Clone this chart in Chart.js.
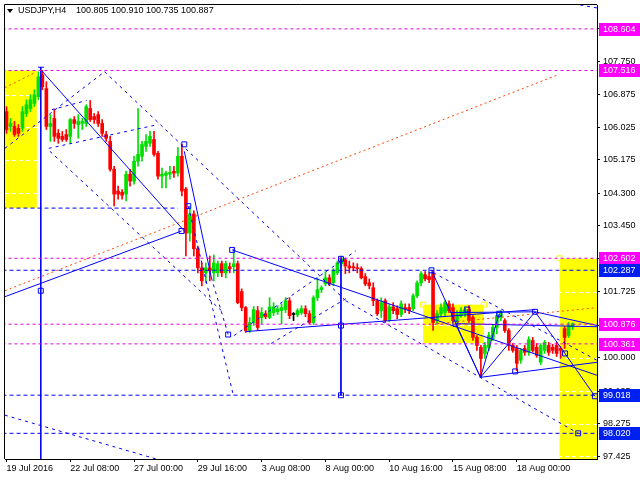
<!DOCTYPE html>
<html>
<head>
<meta charset="utf-8">
<script src="https://cdn.jsdelivr.net/npm/chart.js@4.4.0/dist/chart.umd.min.js"></script>
<style>
html, body { margin: 0; padding: 0; background: #fff; }
</style>
</head>
<body>
<canvas id="chart" width="640" height="480"></canvas>
<script>
// USDJPY H4 candles (bar index 0..142)
var opens = [106.44, 106.05, 106.05, 106.00, 106.00, 106.39, 106.52, 106.65, 106.83, 107.40,
  107.04, 106.05, 106.26, 105.87, 105.79, 105.84, 105.79, 106.23, 106.10, 106.13,
  106.13, 106.52, 106.31, 106.36, 106.13, 105.84, 105.66, 104.93, 104.36, 104.33,
  104.28, 104.80, 104.62, 105.14, 105.27, 105.53, 105.61, 105.71, 105.35, 104.75,
  104.77, 104.80, 104.88, 104.83, 105.27, 104.41, 103.26, 103.76, 102.85, 102.35,
  102.22, 102.35, 102.22, 102.22, 102.46, 102.22, 102.38, 102.38, 102.46, 101.73,
  101.31, 100.71, 100.92, 101.23, 101.05, 101.15, 101.05, 101.18, 101.20, 101.23,
  101.26, 101.49, 101.13, 101.12, 101.18, 101.28, 101.15, 100.92, 101.57, 101.78,
  101.93, 102.09, 101.96, 102.22, 102.46, 102.56, 102.40, 102.38, 102.35, 102.33,
  102.12, 101.96, 101.83, 101.49, 101.23, 101.49, 101.00, 101.33, 101.28, 101.13,
  101.31, 101.31, 101.28, 101.62, 101.96, 102.17, 102.12, 102.22, 100.97, 101.15,
  101.18, 101.41, 101.31, 100.97, 101.10, 101.15, 101.26, 101.05, 100.53, 100.27,
  100.11, 100.27, 100.50, 100.79, 101.05, 100.97, 100.71, 100.32, 100.24, 99.93,
  100.24, 100.14, 100.45, 100.27, 99.88, 100.19, 100.32, 100.27, 100.32, 100.24,
  100.76, 100.58, 100.805];
var highs = [106.57, 106.26, 106.18, 106.10, 106.57, 106.75, 106.88, 107.01, 107.48, 107.516,
  107.22, 106.36, 106.49, 105.97, 105.92, 105.97, 106.26, 106.31, 106.36, 106.26,
  106.62, 106.73, 106.39, 106.44, 106.23, 105.92, 105.79, 105.01, 104.49, 104.40,
  104.88, 104.93, 105.27, 106.52, 105.66, 105.84, 105.92, 105.92, 105.40, 104.96,
  104.88, 105.01, 105.01, 105.50, 105.58, 104.46, 103.97, 103.84, 102.92, 102.48,
  102.48, 102.66, 102.69, 102.53, 102.53, 102.53, 102.48, 102.85, 102.53, 101.80,
  101.34, 101.05, 101.34, 101.34, 101.31, 101.23, 101.57, 101.44, 101.36, 101.41,
  101.57, 101.57, 101.18, 101.28, 101.36, 101.36, 101.23, 101.62, 102.09, 101.88,
  102.25, 102.17, 102.33, 102.53, 102.66, 102.59, 102.53, 102.48, 102.46, 102.38,
  102.20, 102.06, 101.96, 101.54, 101.57, 101.54, 101.39, 101.44, 101.36, 101.49,
  101.41, 101.41, 101.67, 102.01, 102.25, 102.25, 102.22, 102.287, 101.23, 101.41,
  101.49, 101.49, 101.41, 101.23, 101.31, 101.34, 101.36, 101.10, 100.58, 100.32,
  100.40, 100.66, 100.87, 101.18, 101.23, 101.02, 100.76, 100.37, 100.32, 100.24,
  100.32, 100.55, 100.53, 100.37, 100.37, 100.45, 100.40, 100.35, 100.40, 100.29,
  100.81, 100.92, 100.910];
var lows = [105.87, 105.92, 105.79, 105.79, 105.92, 106.31, 106.44, 106.57, 106.75, 107.01,
  105.97, 105.66, 105.66, 105.61, 105.66, 105.66, 105.61, 106.00, 105.74, 105.97,
  106.05, 106.18, 106.13, 106.05, 105.79, 105.66, 104.88, 103.97, 104.15, 104.15,
  104.10, 104.49, 104.54, 105.01, 105.14, 105.40, 105.53, 105.27, 104.67, 104.44,
  104.44, 104.67, 104.72, 104.75, 104.23, 102.66, 103.05, 102.66, 102.22, 101.88,
  101.96, 102.01, 102.01, 102.12, 102.12, 102.09, 102.22, 102.22, 101.41, 101.23,
  100.66, 100.66, 100.84, 100.71, 100.89, 101.02, 101.02, 101.10, 101.13, 100.89,
  101.18, 101.02, 100.97, 101.07, 101.13, 101.07, 100.89, 100.87, 101.49, 101.70,
  101.88, 101.88, 101.88, 102.17, 102.40, 102.20, 102.22, 102.27, 102.22, 102.06,
  101.88, 101.80, 101.36, 101.10, 101.05, 100.92, 100.94, 101.15, 101.02, 101.07,
  101.18, 101.15, 101.23, 101.57, 101.88, 102.01, 101.96, 100.71, 100.89, 101.07,
  101.10, 101.18, 100.92, 100.92, 101.05, 101.07, 100.92, 100.45, 100.19, 99.49,
  99.98, 100.19, 100.45, 100.63, 100.97, 100.66, 100.19, 100.14, 99.66, 99.85,
  100.06, 100.06, 100.14, 100.01, 99.82, 100.11, 100.06, 100.11, 100.03, 99.98,
  100.24, 100.53, 100.735];
var closes = [105.97, 106.13, 105.84, 105.87, 106.44, 106.62, 106.75, 106.88, 107.35, 107.09,
  106.05, 106.13, 105.79, 105.74, 105.71, 105.71, 106.23, 106.13, 106.18, 106.18,
  106.57, 106.23, 106.23, 106.13, 105.87, 105.74, 104.93, 104.28, 104.28, 104.25,
  104.80, 104.62, 105.14, 105.32, 105.58, 105.66, 105.79, 105.32, 104.75, 104.80,
  104.83, 104.85, 104.83, 105.27, 104.36, 103.26, 103.76, 102.85, 102.35, 102.01,
  102.35, 102.27, 102.48, 102.46, 102.22, 102.46, 102.33, 102.46, 101.44, 101.31,
  100.71, 100.92, 101.26, 100.79, 101.18, 101.07, 101.33, 101.33, 101.28, 101.31,
  101.49, 101.10, 101.13, 101.23, 101.28, 101.15, 100.92, 101.57, 101.78, 101.83,
  102.09, 101.93, 102.27, 102.48, 102.59, 102.40, 102.35, 102.35, 102.33, 102.09,
  101.93, 101.88, 101.49, 101.15, 101.44, 100.97, 101.33, 101.23, 101.13, 101.41,
  101.28, 101.23, 101.62, 101.96, 102.20, 102.06, 102.04, 100.92, 101.15, 101.31,
  101.44, 101.23, 100.97, 101.15, 101.23, 101.26, 100.97, 100.53, 100.32, 99.98,
  100.32, 100.58, 100.79, 101.10, 101.15, 100.71, 100.32, 100.19, 99.85, 100.19,
  100.14, 100.47, 100.19, 100.06, 100.32, 100.40, 100.14, 100.19, 100.11, 100.19,
  100.53, 100.84, 100.887];

// time labels, one every 16 bars
var timeLabels = ['19 Jul 2016', '22 Jul 08:00', '27 Jul 00:00', '29 Jul 16:00', '3 Aug 08:00',
  '8 Aug 00:00', '10 Aug 16:00', '15 Aug 08:00', '18 Aug 00:00'];
var barsPerLabel = 16;

// price scale
var priceTicks = [97.425, 98.275, 99.125, 100.000, 100.850, 101.725, 102.600, 103.450,
  104.300, 105.175, 106.025, 106.875, 107.750, 108.625];
var priceMin = 97.348;
var priceMax = 109.229;

// horizontal levels
var magentaLevels = [108.604, 107.516, 102.602, 100.876, 100.361];
var blueLevels = [102.287, 99.018, 98.020];
var shortLevel = [103.914, -1, 43];

// yellow zones: [fromBar, toBar, price1, price2]
var zones = [[-1, 7.6, 107.516, 103.914], [104.5, 119.75, 101.387, 100.38], [138.75, 150, 102.602, 90]];

// trend lines: [bar, price] pairs
var solidLines = [
  [[8.6, 107.536], [44.6, 103.315]],
  [[-0.4, 101.595], [43.9, 103.315]],
  [[8.6, 107.6], [8.6, 97.0]],
  [[7.9, 107.6], [9.4, 107.6]],
  [[44.6, 105.40], [51.4, 102.09]],
  [[56.6, 102.82], [148.1, 99.54]],
  [[60.1, 100.683], [132.6, 101.257]],
  [[83.9, 102.62], [83.9, 99.016]],
  [[106.6, 102.287], [118.9, 99.485]],
  [[118.9, 99.485], [132.6, 101.2]],
  [[118.9, 99.485], [123.6, 101.15]],
  [[132.6, 101.2], [140.1, 100.11]],
  [[140.1, 100.11], [147.6, 98.99]],
  [[118.9, 99.485], [148.2, 99.88]],
  [[111.4, 101.18], [132.6, 101.2]],
  [[132.6, 101.2], [148.2, 100.84]],
  [[112.6, 100.89], [118.9, 99.485]],
  [[112.6, 100.89], [148.2, 100.81]]
];
var dashedLines = [
  [[51.4, 102.09], [55.6, 100.605]],
  [[45.6, 103.966], [56.9, 99.018]],
  [[-0.4, 105.477], [24.6, 107.484]],
  [[24.6, 107.484], [85.1, 101.491]],
  [[10.9, 105.399], [53.9, 101.23]],
  [[-0.4, 98.495], [37.6, 97.348]],
  [[57.1, 100.579], [87.6, 102.794]],
  [[66.4, 100.37], [85.1, 101.543]],
  [[11.4, 106.49], [20.1, 106.73]],
  [[10.6, 105.477], [38.1, 106.103]],
  [[85.1, 101.49], [143.4, 98.02]],
  [[107.1, 102.221], [148.2, 99.928]],
  [[143.9, 109.23], [148.2, 109.15]]
];
var orangeLines = [
  [[-0.4, 101.751], [138.4, 107.405]],
  [[-0.4, 107.067], [7.1, 107.458]],
  [[108.1, 100.892], [148.2, 101.309]]
];
var anchors = [[8.6, 101.751], [43.9, 103.315], [44.6, 105.582], [45.6, 103.966], [55.6, 100.605],
  [56.6, 102.82], [83.9, 102.586], [83.9, 100.84], [83.9, 99.016], [106.6, 102.287],
  [112.6, 100.89], [115.6, 101.26], [123.6, 101.15], [132.6, 101.2], [127.6, 99.64],
  [140.1, 100.11], [147.6, 98.99], [143.4, 98.02]];
var zoneAnchors = [[104.5, 101.387], [119.75, 101.387], [138.75, 102.602]];

var titleText = 'USDJPY,H4';
var quoteText = '100.805 100.910 100.735 100.887';

var BLUE = '#0000ff';
var MAGENTA = '#e000e0';
var FONT = 'Liberation Sans';

function candleColor(i) {
  if (closes[i] > opens[i]) return '#00e000';
  if (closes[i] < opens[i]) return '#ff0000';
  return '#000000';
}

function lineSet(pairs, color, dash) {
  return {
    type: 'line',
    data: pairs.map(function (p) { return { x: p[0], y: p[1] }; }),
    borderColor: color,
    borderWidth: 1,
    borderDash: dash,
    pointRadius: 0,
    fill: false,
    order: 0
  };
}

var datasets = [];
magentaLevels.forEach(function (v) {
  datasets.push(lineSet([[-1, v], [150, v]], MAGENTA, [3, 3]));
});
blueLevels.forEach(function (v) {
  datasets.push(lineSet([[-1, v], [150, v]], BLUE, [4, 3]));
});
datasets.push(lineSet([[shortLevel[1], shortLevel[0]], [shortLevel[2], shortLevel[0]]], BLUE, [4, 3]));
solidLines.forEach(function (l) { datasets.push(lineSet(l, BLUE, [])); });
dashedLines.forEach(function (l) { datasets.push(lineSet(l, BLUE, [3, 4])); });
orangeLines.forEach(function (l) { datasets.push(lineSet(l, '#ff4500', [2, 3])); });
datasets.push({
  type: 'line', showLine: false, order: 0,
  data: anchors.map(function (p) { return { x: p[0], y: p[1] }; }),
  pointStyle: 'rect', pointRadius: 3.5, pointBorderColor: BLUE, pointBorderWidth: 1,
  pointBackgroundColor: 'rgba(255,255,255,0)'
});
datasets.push({
  type: 'line', showLine: false, order: 0,
  data: zoneAnchors.map(function (p) { return { x: p[0], y: p[1] }; }),
  pointStyle: 'rect', pointRadius: 3.5, pointBorderColor: '#ffff00', pointBorderWidth: 1,
  pointBackgroundColor: 'rgba(255,255,255,0)'
});
// candles: wicks and bodies
datasets.push({
  type: 'bar', order: 1, grouped: false, barThickness: 1, borderWidth: 0,
  data: opens.map(function (o, i) { return { x: i, y: [lows[i], highs[i]] }; }),
  backgroundColor: opens.map(function (o, i) { return candleColor(i); })
});
datasets.push({
  type: 'bar', order: 1, grouped: false, barThickness: 3, borderWidth: 0, minBarLength: 1,
  data: opens.map(function (o, i) { return { x: i, y: [Math.min(o, closes[i]), Math.max(o, closes[i])] }; }),
  backgroundColor: opens.map(function (o, i) { return candleColor(i); })
});

var overlay = {
  id: 'overlay',
  beforeDatasetsDraw: function (chart) {
    var ctx = chart.ctx, xs = chart.scales.x, ys = chart.scales.y, a = chart.chartArea;
    ctx.save();
    ctx.beginPath();
    ctx.rect(a.left, a.top, a.right - a.left, a.bottom - a.top);
    ctx.clip();
    ctx.fillStyle = '#ffff00';
    zones.forEach(function (z) {
      var x1 = xs.getPixelForValue(z[0]), x2 = xs.getPixelForValue(z[1]);
      var y1 = ys.getPixelForValue(z[2]), y2 = ys.getPixelForValue(z[3]);
      ctx.fillRect(Math.min(x1, x2), Math.min(y1, y2), Math.abs(x2 - x1), Math.abs(y2 - y1));
    });
    // grid is white dashed, only seen on the yellow zones
    ctx.strokeStyle = '#ffffff';
    ctx.lineWidth = 1;
    ctx.setLineDash([4, 3]);
    ys.ticks.forEach(function (t) {
      var y = Math.round(ys.getPixelForValue(t.value)) + 0.5;
      ctx.beginPath();
      ctx.moveTo(a.left, y);
      ctx.lineTo(a.right, y);
      ctx.stroke();
    });
    ctx.restore();
  },
  afterDraw: function (chart) {
    var ctx = chart.ctx, ys = chart.scales.y, a = chart.chartArea;
    ctx.save();
    // frame on left and top
    ctx.strokeStyle = '#000';
    ctx.lineWidth = 1;
    ctx.beginPath();
    ctx.moveTo(a.left - 0.5, a.bottom);
    ctx.lineTo(a.left - 0.5, a.top - 0.5);
    ctx.lineTo(a.right, a.top - 0.5);
    ctx.stroke();
    // level labels on the price axis
    ctx.font = '9px "' + FONT + '"';
    ctx.textBaseline = 'middle';
    ctx.textAlign = 'left';
    var tags = magentaLevels.map(function (v) { return [v, '#ff00ff']; })
      .concat(blueLevels.map(function (v) { return [v, '#0020f0']; }));
    tags.forEach(function (t) {
      var y = Math.round(ys.getPixelForValue(t[0]));
      ctx.fillStyle = t[1];
      ctx.fillRect(a.right + 2, y - 6, 43, 13);
      ctx.fillStyle = '#ffffff';
      ctx.fillText(t[0].toFixed(3), a.right + 6, y + 0.5);
    });
    // title
    ctx.fillStyle = '#000';
    ctx.beginPath();
    ctx.moveTo(7, 9);
    ctx.lineTo(13, 9);
    ctx.lineTo(10, 13);
    ctx.closePath();
    ctx.fill();
    ctx.fillText(titleText, 18, 11);
    ctx.fillText(quoteText, 76, 11);
    ctx.restore();
  }
};

new Chart(document.getElementById('chart'), {
  type: 'bar',
  data: { datasets: datasets },
  plugins: [overlay],
  options: {
    responsive: false,
    animation: false,
    events: [],
    layout: { padding: { left: 3, top: 3, right: 0, bottom: 0 } },
    plugins: { legend: { display: false }, tooltip: { enabled: false } },
    scales: {
      x: {
        type: 'linear',
        min: -0.375,
        max: 148.125,
        offset: false,
        afterBuildTicks: function (s) {
          s.ticks = timeLabels.map(function (t, k) { return { value: k * barsPerLabel }; });
        },
        afterFit: function (s) { s.height = 21; s.paddingLeft = 0; s.paddingRight = 0; },
        ticks: {
          autoSkip: false, maxRotation: 0, align: 'start', padding: 1, color: '#000',
          font: { family: FONT, size: 9 },
          callback: function (v) { return timeLabels[Math.round(v / barsPerLabel)]; }
        },
        grid: { drawOnChartArea: false, offset: false, tickLength: 3, tickColor: '#000' },
        border: { color: '#000' }
      },
      y: {
        type: 'linear',
        position: 'right',
        min: priceMin,
        max: priceMax,
        afterBuildTicks: function (s) {
          s.ticks = priceTicks.map(function (v) { return { value: v }; });
        },
        afterFit: function (s) { s.width = 43; s.paddingTop = 0; s.paddingBottom = 0; },
        ticks: {
          padding: 3, color: '#000', font: { family: FONT, size: 9 },
          callback: function (v) { return v.toFixed(3); }
        },
        grid: { drawOnChartArea: false, tickLength: 3, tickColor: '#000' },
        border: { color: '#000' }
      }
    }
  }
});
</script>
</body>
</html>
